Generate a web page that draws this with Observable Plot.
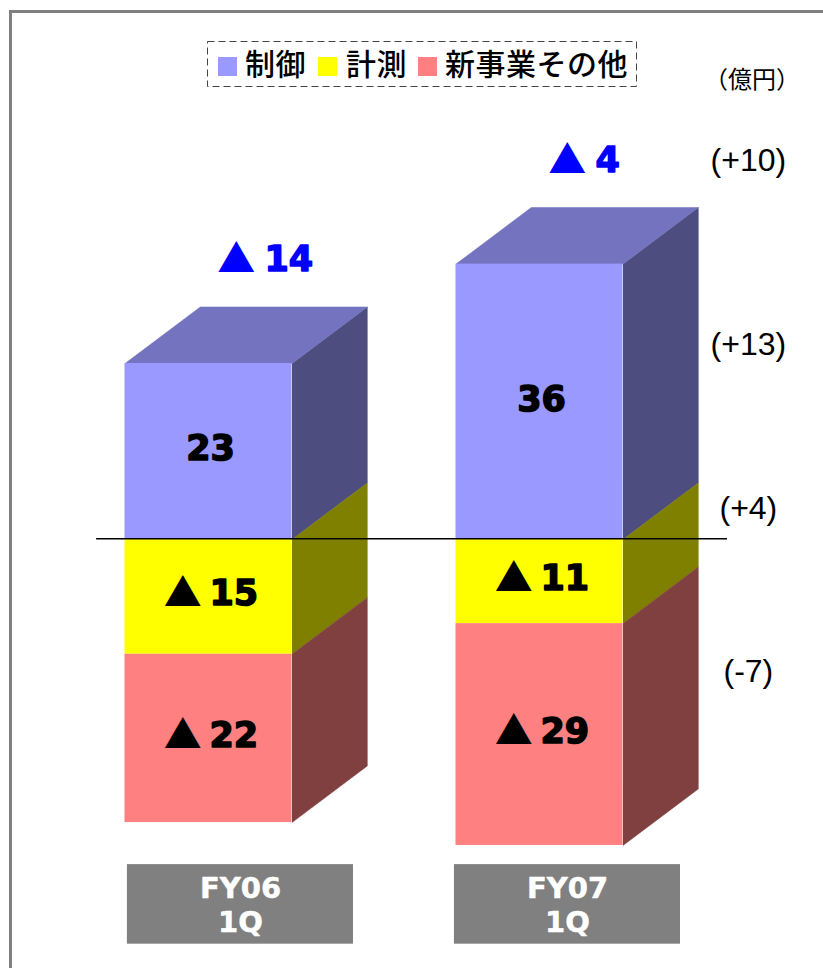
<!DOCTYPE html>
<html><head><meta charset="utf-8">
<script src="https://cdn.jsdelivr.net/npm/d3@7"></script>
<script src="https://cdn.jsdelivr.net/npm/@observablehq/plot@0.6"></script>
<style>
html,body{margin:0;padding:0;background:#fff;width:823px;height:968px;overflow:hidden}
#frame{position:absolute;left:9px;top:10px;width:814px;height:958px;border-left:3px solid #808080;border-top:3px solid #808080;box-sizing:border-box}
#chart{position:absolute;left:0;top:0}
#chart svg{display:block;background:transparent}
#legend{position:absolute;left:207px;top:41px;width:430px;height:46px;font-family:"Noto Sans CJK JP",sans-serif;font-size:30px;font-weight:500;color:#000;letter-spacing:.5px}
#legend svg{position:absolute;left:0;top:0}
#legend span{position:absolute;top:-2px;line-height:46px;white-space:nowrap}
#legend i{position:absolute;top:16px;width:19px;height:19px}
</style></head><body>
<div id="frame"></div>
<div id="chart"></div>
<div id="legend"><svg width="430" height="46"><rect x="0.5" y="0.5" width="429" height="45" fill="none" stroke="#444" stroke-dasharray="7 4"/></svg></div>
<script>
const periods = ["FY06\n1Q", "FY07\n1Q"];
const seriesNames = ["制御", "計測", "新事業その他"];
const control = [23, 36];
const measurement = [-15, -11];
const newBusiness = [-22, -29];
const totals = [-14, -4];
const changes = ["(+10)", "(+13)", "(+4)", "(-7)"];
const unit = "（億円）";

// Styles and layout (in scale units)
const front = ["#9999FF", "#FFFF00", "#FF8080"];
const side = ["#4D4D80", "#808000", "#804040"];
const topFace = "#7373BF";
const halfWidth = 0.2523, depthX = 0.2275, depthY = 7.4;
const changeX = 1.631, changeY = [49.5, 25.5, 4.05, -17.3];
const plateX = [[-0.245, 0.438], [-0.257, 0.426]];
const plateTextX = [0.0967, 0.0846];

const segs = [], faces = [];
periods.forEach((p, i) => {
  const stack = [
    {s: 0, lo: 0, hi: control[i], v: control[i]},
    {s: 1, lo: measurement[i], hi: 0, v: measurement[i]},
    {s: 2, lo: measurement[i] + newBusiness[i], hi: measurement[i], v: newBusiness[i]}
  ];
  const L = i - halfWidth, R = i + halfWidth;
  stack.forEach(d => {
    segs.push({i, L, R, lo: d.lo, hi: d.hi, v: d.v, fill: front[d.s], mid: (d.lo + d.hi) / 2});
    [[R, d.lo], [R + depthX, d.lo + depthY], [R + depthX, d.hi + depthY], [R, d.hi]]
      .forEach(([x, y]) => faces.push({id: `s${i}${d.s}`, x, y, fill: side[d.s]}));
  });
  const t = control[i];
  [[L, t], [L + depthX, t + depthY], [R + depthX, t + depthY], [R, t]]
    .forEach(([x, y]) => faces.push({id: `t${i}`, x, y, fill: topFace}));
});
const tops = totals.map((v, i) => ({i, v, y: control[i] + 13.5}));
const pos = segs.filter(d => d.v >= 0), neg = segs.filter(d => d.v < 0);
const digitFont = {fontFamily: "'DejaVu Sans', sans-serif", fontWeight: 700, fontSize: 35, strokeWidth: 1.5};
const triFont = {text: () => "▲", fontFamily: "'Noto Sans CJK JP', sans-serif", fontSize: 38};

const chart = Plot.plot({
  width: 823, height: 968,
  marginTop: 0, marginRight: 0, marginBottom: 0, marginLeft: 0,
  x: {domain: [0, 1], range: [208, 539], axis: null},
  y: {domain: [36, -40], range: [263.6, 845], axis: null},
  style: {background: "transparent"},
  marks: [
    Plot.line(faces, {x: "x", y: "y", z: "id", fill: "fill", stroke: "fill", strokeWidth: 0.5, curve: "linear"}),
    Plot.rect(segs, {x1: "L", x2: "R", y1: "lo", y2: "hi", fill: "fill"}),
    Plot.ruleY([0], {x1: () => -0.338, x2: () => 1.568, dy: -0.7, stroke: "#000", strokeWidth: 1.5}),
    Plot.text(pos, {x: d => d.i + 0.006, y: "mid", dy: -2.5, text: d => String(d.v), fill: "#000", stroke: "#000", ...digitFont}),
    Plot.text(neg, {x: d => d.i - 0.078, y: "mid", dy: -3, fill: "#000", ...triFont}),
    Plot.text(neg, {x: d => d.i + 0.003, y: "mid", dy: -3, text: d => String(Math.abs(d.v)), textAnchor: "start", fill: "#000", stroke: "#000", ...digitFont}),
    Plot.text(tops, {x: d => d.i + 0.084, y: "y", fill: "#0000FF", ...triFont}),
    Plot.text(tops, {x: d => d.i + 0.169, y: "y", text: d => String(Math.abs(d.v)), textAnchor: "start", fill: "#0000FF", stroke: "#0000FF", ...digitFont}),
    Plot.text(changes, {x: () => changeX, y: (d, i) => changeY[i], text: d => d, fontSize: 32, fill: "#000", fontFamily: "'Liberation Sans', sans-serif"}),
    Plot.rect(periods, {x1: (d, i) => i + plateX[i][0], x2: (d, i) => i + plateX[i][1], y1: () => -42.5, y2: () => -52.9, fill: "#808080"}),
    Plot.text(periods, {x: (d, i) => i + plateTextX[i], y: () => -47.7, text: d => d, fontSize: 29, lineHeight: 1.17, fill: "#fff", stroke: "#fff", strokeWidth: 0.5, fontFamily: "'DejaVu Sans', sans-serif", fontWeight: 700})
  ]
});
document.getElementById("chart").append(chart);

// Unit label and legend
const u = document.createElement("div");
u.textContent = unit;
u.style.cssText = "position:absolute;left:704px;top:62px;font:24px 'Noto Sans CJK JP',sans-serif;line-height:32px;white-space:nowrap";
document.body.append(u);

const lg = document.getElementById("legend");
const swX = [11, 111, 211], txX = [38, 139, 238];
seriesNames.forEach((n, k) => {
  const i = document.createElement("i");
  i.style.left = swX[k] + "px"; i.style.background = front[k];
  const s = document.createElement("span");
  s.style.left = txX[k] + "px"; s.textContent = n;
  lg.append(i, s);
});
</script>
</body></html>
